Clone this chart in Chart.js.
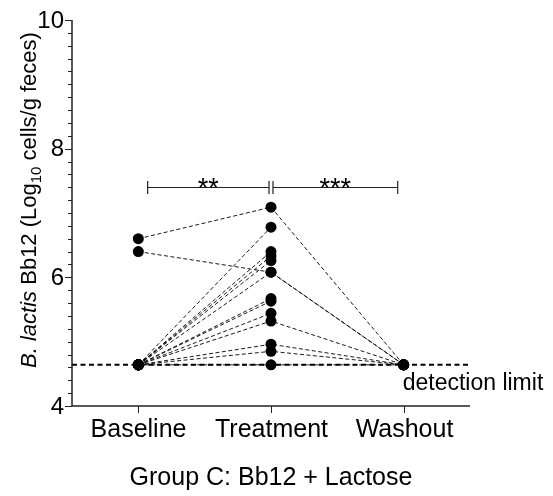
<!DOCTYPE html>
<html>
<head>
<meta charset="utf-8">
<script src="https://cdn.jsdelivr.net/npm/chart.js@4"></script>
<style>
  body { margin: 0; background: #fff; }
  #wrap { width: 553px; height: 496px; position: relative; }
</style>
</head>
<body>
<div id="wrap"><canvas id="chart"></canvas></div>
<script>
const categories = ["Baseline", "Treatment", "Washout"];
// one value per subject
const baseline  = [6.60, 6.40, 4.64, 4.64, 4.64, 4.64, 4.64, 4.64, 4.64, 4.64, 4.64, 4.64, 4.64, 4.64];
const treatment = [7.09, 6.08, 6.78, 6.40, 6.33, 6.26, 6.08, 5.67, 5.63, 5.44, 5.32, 4.96, 4.85, 4.64];
const washout   = [4.64, 4.64, null, null, null, null, 4.64, null, null, null, 4.64, 4.64, 4.64, 4.64];
const yTicks = [4, 6, 8, 10];
const detectionLimit = 4.64;
const brackets = [
  { from: 1.07, to: 1.985, label: "**" },
  { from: 2.015, to: 2.955, label: "***" }
];
const bracketY = 7.40;

const FONT = "'Liberation Sans', Arial, sans-serif";

const datasets = baseline.map((b, i) => ({
  data: [
    { x: 1, y: b },
    { x: 2, y: treatment[i] },
    { x: 3, y: washout[i] }
  ],
  showLine: true,
  borderColor: "#000",
  borderWidth: 0.9,
  borderDash: [4, 2.5],
  pointRadius: 5.5,
  pointBackgroundColor: "#000",
  pointBorderWidth: 0,
  spanGaps: false,
  order: 0
}));

// detection limit line
datasets.push({
  data: [{ x: 0.5, y: detectionLimit }, { x: 3.5, y: detectionLimit }],
  showLine: true,
  borderColor: "#000",
  borderWidth: 2,
  borderDash: [5, 3.5],
  pointRadius: 0,
  order: 1
});

const axesPlugin = {
  id: "axes",
  afterDraw(chart) {
    const { ctx, chartArea: a, scales: { x, y } } = chart;
    ctx.save();
    ctx.strokeStyle = "#222";
    ctx.lineWidth = 1.5;
    ctx.setLineDash([]);

    // axis lines
    ctx.beginPath();
    ctx.moveTo(a.left, a.top);
    ctx.lineTo(a.left, a.bottom);
    ctx.lineTo(a.right, a.bottom);
    ctx.stroke();

    // y ticks: minor every 0.2, major at labels
    ctx.lineWidth = 1;
    for (let k = 0; k <= 30; k++) {
      const v = 4 + k * 0.2;
      const py = Math.round(y.getPixelForValue(v)) + 0.5;
      const major = yTicks.some(t => Math.abs(t - v) < 1e-6);
      ctx.beginPath();
      ctx.moveTo(a.left - (major ? 7 : 4), py);
      ctx.lineTo(a.left, py);
      ctx.stroke();
    }
    ctx.fillStyle = "#000";
    ctx.font = "24px " + FONT;
    ctx.textAlign = "right";
    ctx.textBaseline = "middle";
    yTicks.forEach(t => ctx.fillText(String(t), a.left - 8, y.getPixelForValue(t) + 1));

    // x ticks + labels
    ctx.font = "25px " + FONT;
    ctx.textAlign = "center";
    ctx.textBaseline = "alphabetic";
    categories.forEach((c, i) => {
      const px = Math.round(x.getPixelForValue(i + 1)) + 0.5;
      ctx.beginPath();
      ctx.moveTo(px, a.bottom);
      ctx.lineTo(px, a.bottom + 7);
      ctx.stroke();
      ctx.fillText(c, px, 437);
    });

    // x title
    ctx.fillText("Group C: Bb12 + Lactose", (a.left + a.right) / 2, 485);

    // detection limit label
    ctx.font = "23px " + FONT;
    ctx.textAlign = "left";
    ctx.fillText("detection limit", x.getPixelForValue(3) - 1, 390);

    // significance brackets
    const by = Math.round(y.getPixelForValue(bracketY)) + 0.5;
    ctx.lineWidth = 1.2;
    ctx.font = "27px " + FONT;
    ctx.textAlign = "center";
    brackets.forEach(b => {
      const x1 = x.getPixelForValue(b.from), x2 = x.getPixelForValue(b.to);
      ctx.beginPath();
      ctx.moveTo(x1, by); ctx.lineTo(x2, by);
      ctx.moveTo(x1, by - 6.5); ctx.lineTo(x1, by + 6.5);
      ctx.moveTo(x2, by - 6.5); ctx.lineTo(x2, by + 6.5);
      ctx.stroke();
      ctx.fillText(b.label, (x1 + x2) / 2, by + 9);
    });

    // y title, rotated, with italics and subscript
    const parts = [
      { t: "B. lactis", f: "italic 22px " + FONT, dy: 0 },
      { t: " Bb12 (Log", f: "22px " + FONT, dy: 0 },
      { t: "10", f: "15px " + FONT, dy: 5 },
      { t: " cells/g feces)", f: "22px " + FONT, dy: 0 }
    ];
    ctx.translate(36, 200);
    ctx.rotate(-Math.PI / 2);
    let total = 0;
    parts.forEach(p => { ctx.font = p.f; total += ctx.measureText(p.t).width; });
    let cx = -total / 2;
    ctx.textAlign = "left";
    parts.forEach(p => {
      ctx.font = p.f;
      ctx.fillText(p.t, cx, p.dy);
      cx += ctx.measureText(p.t).width;
    });
    ctx.restore();
  }
};

new Chart(document.getElementById("chart"), {
  type: "scatter",
  data: { datasets },
  options: {
    responsive: true,
    maintainAspectRatio: false,
    animation: false,
    layout: { padding: { left: 72, top: 20, right: 83, bottom: 90 } },
    plugins: { legend: { display: false }, tooltip: { enabled: false } },
    scales: {
      x: { type: "linear", min: 0.5, max: 3.5, display: false },
      y: { type: "linear", min: 4, max: 10, display: false }
    }
  },
  plugins: [axesPlugin]
});
</script>
</body>
</html>
